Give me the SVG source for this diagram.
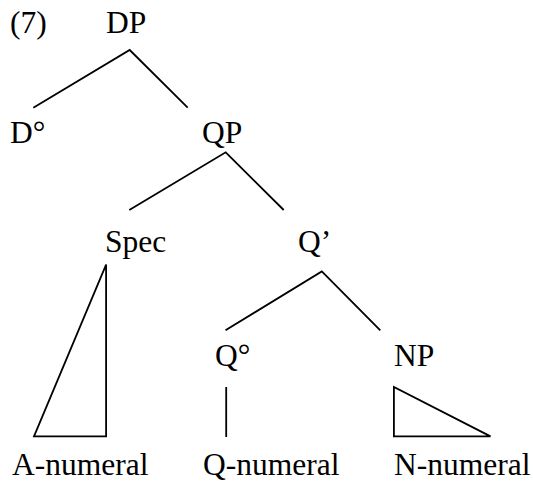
<svg xmlns="http://www.w3.org/2000/svg" width="533" height="481" viewBox="0 0 533 481">
<style>
.e{stroke:#000;stroke-width:1.8;fill:none;stroke-linecap:butt;stroke-linejoin:miter}
</style>
<rect width="533" height="481" fill="#fff"/>
<g font-family="Liberation Serif, Times New Roman, DejaVu Serif, serif" font-size="31.5" fill="#000">
<text x="10" y="33">(7)</text>
<g id="DP"><text x="106" y="33">DP</text></g>
<g id="D0"><text x="10" y="143">D°</text></g>
<g id="QP"><text x="202" y="143">QP</text></g>
<g id="Spec"><text x="105" y="252">Spec</text></g>
<g id="Qbar"><text x="298" y="252">Q’</text></g>
<g id="Q0"><text x="215" y="366">Q°</text></g>
<g id="NP"><text x="394" y="366">NP</text></g>
<g id="Anum"><text x="12" y="475">A-numeral</text></g>
<g id="Qnum"><text x="203" y="475">Q-numeral</text></g>
<g id="Nnum"><text x="394" y="475">N-numeral</text></g>
</g>
<g id="connectors">
<polyline class="e" points="33.3,107.7 129.7,50 187.7,107.7"/>
<polyline class="e" points="129.3,210 225.7,152.3 283.7,210"/>
<polyline class="e" points="225.5,330.3 321.8,271.4 380.3,330.3"/>
<polygon class="e" points="106.1,264.6 34,436.4 106.1,436.4"/>
<line class="e" x1="226.2" y1="387" x2="226.2" y2="437"/>
<polygon class="e" points="393.9,387 393.9,436.4 490.5,436.4"/>
</g>
</svg>
